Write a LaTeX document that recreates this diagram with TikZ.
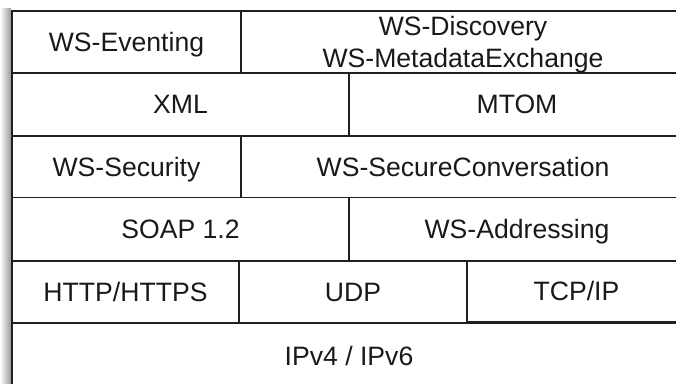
\documentclass[tikz,border=0pt]{standalone}
\usepackage{fontspec}
\setmainfont{Liberation Sans}
\begin{document}
\begin{tikzpicture}[x=1pt,y=1pt,
  cell/.style={draw=black!88, line width=1.6pt, rectangle, inner sep=0pt, outer sep=0pt,
    align=center, font=\fontsize{26.6}{32}\selectfont, text height=19pt, text depth=0pt, text=black!90}]
\useasboundingbox (0,0) rectangle (676,383);
\clip (0,0) rectangle (676,383);
\shade[left color=white, right color=black!40] (0,-10) rectangle (11,374);
% row 1
\node[cell, minimum width=229pt, minimum height=62pt] (ev) at (126.5,341) {WS-Eventing};
\node[cell, text height=51pt, minimum width=444pt, minimum height=62pt] (disc) at (463,341) {WS-Discovery\\WS-MetadataExchange};
% row 2
\node[cell, minimum width=337pt, minimum height=63pt] (xml) at (180.5,278.5) {XML};
\node[cell, minimum width=336pt, minimum height=63pt] (mtom) at (517,278.5) {MTOM};
% row 3
\node[cell, minimum width=229pt, minimum height=61.5pt] (sec) at (126.5,216.25) {WS-Security};
\node[cell, minimum width=444pt, minimum height=61.5pt] (conv) at (463,216.25) {WS-SecureConversation};
% row 4
\node[cell, minimum width=337pt, minimum height=63.5pt] (soap) at (180.5,153.75) {SOAP 1.2};
\node[cell, minimum width=336pt, minimum height=63.5pt] (addr) at (517,153.75) {WS-Addressing};
% row 5
\node[cell, minimum width=227pt, minimum height=62pt] (http) at (125.5,91) {HTTP/HTTPS};
\node[cell, minimum width=228pt, minimum height=62pt] (udp) at (353,91) {UDP};
\node[cell, line width=2pt, minimum width=219pt, minimum height=61.5pt] (tcp) at (576.5,91.75) {TCP/IP};
% row 6
\node[cell, minimum width=674pt, minimum height=66pt] (ip) at (349,27) {IPv4 / IPv6};
\end{tikzpicture}
\end{document}
